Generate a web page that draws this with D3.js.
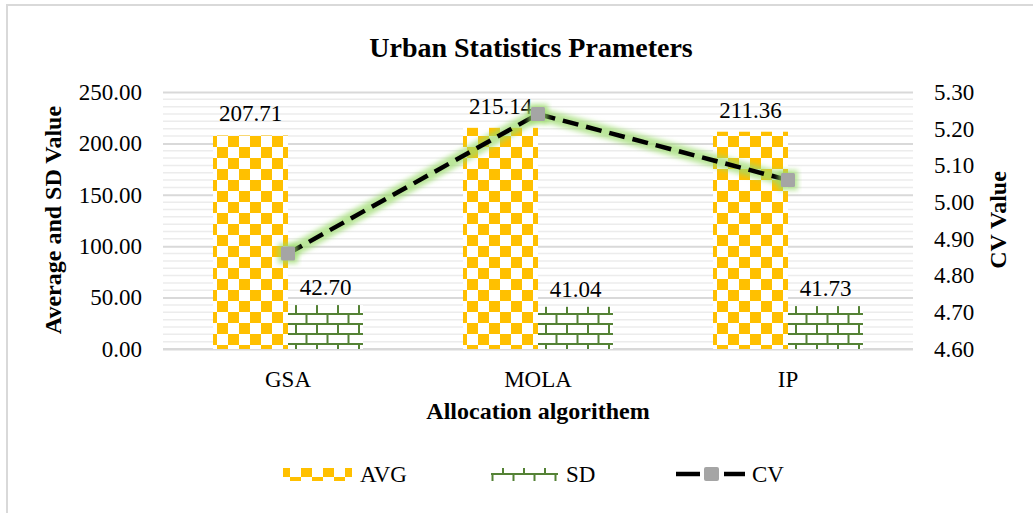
<!DOCTYPE html>
<html>
<head>
<meta charset="utf-8">
<script src="https://cdn.jsdelivr.net/npm/d3@7"></script>
<style>
  body { margin: 0; background: #fff; }
  text { font-family: "Liberation Serif", "Times New Roman", serif; fill: #000; }
</style>
</head>
<body>
<div id="chart"></div>
<script>
const categories = ["GSA", "MOLA", "IP"];
const avgValues = [207.71, 215.14, 211.36];
const sdValues = [42.70, 41.04, 41.73];
const cvValues = [4.86, 5.24, 5.06];
const leftTicks = [0, 50, 100, 150, 200, 250];
const rightTicks = [4.6, 4.7, 4.8, 4.9, 5.0, 5.1, 5.2, 5.3];

const W = 1033, H = 513;
const plot = { left: 163, right: 913, top: 92, bottom: 349 };

const svg = d3.select("#chart").append("svg")
  .attr("width", W).attr("height", H);

const defs = svg.append("defs");

// checkerboard for AVG
const chk = defs.append("pattern").attr("id", "checker")
  .attr("patternUnits", "userSpaceOnUse")
  .attr("width", 22).attr("height", 22)
  .attr("x", 213).attr("y", 136);
chk.append("rect").attr("width", 22).attr("height", 22).attr("fill", "#fff");
chk.append("rect").attr("width", 11).attr("height", 11).attr("fill", "#ffc000");
chk.append("rect").attr("x", 11).attr("y", 11).attr("width", 11).attr("height", 11).attr("fill", "#ffc000");

// bricks for SD
const brick = defs.append("pattern").attr("id", "brick")
  .attr("patternUnits", "userSpaceOnUse")
  .attr("width", 21).attr("height", 20)
  .attr("x", 288).attr("y", 305);
brick.append("rect").attr("width", 21).attr("height", 20).attr("fill", "#fff");
brick.append("path")
  .attr("d", "M0,9H21M0,19H21M5,0V9M15.5,9V19")
  .attr("stroke", "#548235").attr("stroke-width", 2).attr("fill", "none");

const glow = defs.append("filter").attr("id", "glow")
  .attr("x", "-20%").attr("y", "-50%").attr("width", "140%").attr("height", "200%");
glow.append("feGaussianBlur").attr("stdDeviation", 2.5);

// outer frame
svg.append("rect").attr("x", 7).attr("y", 5).attr("width", W).attr("height", H)
  .attr("fill", "none").attr("stroke", "#d9d9d9").attr("stroke-width", 2);

const x = d3.scaleBand().domain(categories)
  .range([plot.left, plot.right]).paddingInner(0.4).paddingOuter(0.2);
const xs = d3.scaleBand().domain(["avg", "sd"]).range([0, x.bandwidth()]);
const y = d3.scaleLinear().domain([0, 250]).range([plot.bottom, plot.top]);
const y2 = d3.scaleLinear().domain([4.6, 5.3]).range([plot.bottom, plot.top]);

// minor gridlines
const minor = [];
for (let i = 0; i < 5; i++) for (let k = 1; k < 7; k++) minor.push(i * 50 + k * 50 / 7);
svg.append("g").selectAll("line").data(minor).join("line")
  .attr("x1", plot.left).attr("x2", plot.right)
  .attr("y1", d => y(d)).attr("y2", d => y(d))
  .attr("stroke", "#ececec").attr("stroke-width", 1.5);

// major gridlines + left axis
const gl = d3.axisLeft(y).tickValues(leftTicks).tickSize(-(plot.right - plot.left))
  .tickFormat(d3.format(".2f")).tickPadding(21);
const gAx = svg.append("g").attr("transform", `translate(${plot.left},0)`).call(gl);
gAx.select(".domain").remove();
gAx.selectAll("line").attr("stroke", "#d9d9d9").attr("stroke-width", 2);
gAx.selectAll("text").attr("font-size", 23);

// right axis
const gR = svg.append("g").attr("transform", `translate(${plot.right},0)`)
  .call(d3.axisRight(y2).tickValues(rightTicks).tickSize(0).tickPadding(21).tickFormat(d3.format(".2f")));
gR.select(".domain").remove();
gR.selectAll("text").attr("font-size", 23);

// bottom axis line
svg.append("line").attr("x1", plot.left).attr("x2", plot.right)
  .attr("y1", plot.bottom).attr("y2", plot.bottom)
  .attr("stroke", "#d9d9d9").attr("stroke-width", 2);

// bars
const groups = svg.append("g").selectAll("g").data(categories).join("g")
  .attr("transform", d => `translate(${x(d)},0)`);
groups.append("rect")
  .attr("x", xs("avg")).attr("width", xs.bandwidth())
  .attr("y", (d, i) => y(avgValues[i])).attr("height", (d, i) => y(0) - y(avgValues[i]))
  .attr("fill", "url(#checker)");
groups.append("rect")
  .attr("x", xs("sd")).attr("width", xs.bandwidth())
  .attr("y", (d, i) => y(sdValues[i])).attr("height", (d, i) => y(0) - y(sdValues[i]))
  .attr("fill", "url(#brick)");

// CV line
const pts = categories.map((c, i) => [x(c) + x.bandwidth() / 2, y2(cvValues[i])]);
const line = d3.line();
svg.append("path").attr("d", line(pts))
  .attr("fill", "none").attr("stroke", "#9bdc6c").attr("stroke-width", 13)
  .attr("stroke-opacity", 0.7).attr("stroke-linejoin", "round").attr("filter", "url(#glow)");
svg.append("path").attr("d", line(pts))
  .attr("fill", "none").attr("stroke", "#000").attr("stroke-width", 4.5)
  .attr("stroke-dasharray", "16,8");
svg.append("g").selectAll("rect.g").data(pts).join("rect")
  .attr("x", d => d[0] - 10).attr("y", d => d[1] - 10).attr("width", 20).attr("height", 20)
  .attr("fill", "#9bdc6c").attr("opacity", 0.7).attr("filter", "url(#glow)");
svg.append("g").selectAll("rect").data(pts).join("rect")
  .attr("x", d => d[0] - 7).attr("y", d => d[1] - 7).attr("width", 14).attr("height", 14)
  .attr("rx", 1.5).attr("fill", "#a5a5a5");

// data labels
groups.append("text")
  .attr("x", xs("avg") + xs.bandwidth() / 2).attr("y", (d, i) => y(avgValues[i]) - 14)
  .attr("text-anchor", "middle").attr("font-size", 23)
  .text((d, i) => avgValues[i].toFixed(2));
groups.append("text")
  .attr("x", xs("sd") + xs.bandwidth() / 2).attr("y", (d, i) => y(sdValues[i]) - 10)
  .attr("text-anchor", "middle").attr("font-size", 23)
  .text((d, i) => sdValues[i].toFixed(2));

// x labels
svg.append("g").selectAll("text").data(categories).join("text")
  .attr("x", d => x(d) + x.bandwidth() / 2).attr("y", 387)
  .attr("text-anchor", "middle").attr("font-size", 23).text(d => d);

// titles
svg.append("text").attr("x", 531).attr("y", 57).attr("text-anchor", "middle")
  .attr("font-size", 28).attr("font-weight", "bold").text("Urban Statistics Prameters");
svg.append("text").attr("x", 538).attr("y", 419).attr("text-anchor", "middle")
  .attr("font-size", 24).attr("font-weight", "bold").text("Allocation algorithem");
svg.append("text").attr("transform", "translate(61,220) rotate(-90)").attr("text-anchor", "middle")
  .attr("font-size", 24).attr("font-weight", "bold").text("Average and SD Value");
svg.append("text").attr("transform", "translate(1006,220) rotate(-90)").attr("text-anchor", "middle")
  .attr("font-size", 24).attr("font-weight", "bold").text("CV Value");

// legend
const lg = svg.append("g");
lg.append("rect").attr("x", 283).attr("y", 468).attr("width", 69).attr("height", 13).attr("fill", "url(#checker)");
lg.append("text").attr("x", 360).attr("y", 482).attr("font-size", 23).text("AVG");
lg.append("rect").attr("x", 491).attr("y", 468).attr("width", 67).attr("height", 13).attr("fill", "url(#brick)");
lg.append("text").attr("x", 566).attr("y", 482).attr("font-size", 23).text("SD");
lg.append("line").attr("x1", 676).attr("x2", 700).attr("y1", 474).attr("y2", 474).attr("stroke", "#000").attr("stroke-width", 4.5);
lg.append("line").attr("x1", 724).attr("x2", 745).attr("y1", 474).attr("y2", 474).attr("stroke", "#000").attr("stroke-width", 4.5);
lg.append("rect").attr("x", 704).attr("y", 467).attr("width", 15).attr("height", 14).attr("rx", 2).attr("fill", "#a5a5a5");
lg.append("text").attr("x", 752).attr("y", 482).attr("font-size", 23).text("CV");
</script>
</body>
</html>
